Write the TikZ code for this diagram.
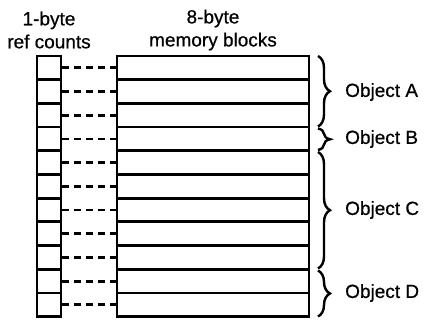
\documentclass[tikz,border=0pt]{standalone}
\usepackage{fontspec}
\setmainfont{Liberation Sans}
\newfontfamily\labfont{Liberation Sans}[FakeBold=0.6]
\usetikzlibrary{decorations.pathreplacing}
\begin{document}
\begin{tikzpicture}[x=1pt,y=-1pt,
  refcell/.style={draw,line width=2.8pt,minimum width=24pt,minimum height=23.7pt,inner sep=0pt,outer sep=0pt},
  memcell/.style={draw,line width=2.8pt,minimum width=192pt,minimum height=23.7pt,inner sep=0pt,outer sep=0pt},
  link/.style={line width=2.8pt,dash pattern=on 7pt off 5pt,dash phase=0pt},
  objbrace/.style={decorate,decoration={brace,amplitude=12pt},line width=2.4pt},
  objlabel/.style={anchor=west,font=\labfont\fontsize{19}{23}\selectfont,inner sep=0pt},
  head/.style={align=center,font=\labfont\fontsize{19}{23}\selectfont,inner sep=0pt}]
\useasboundingbox (0,0) rectangle (424,320);
\node[head] (h1) at (49,30) {1-byte\\ref counts};
\node[head] (h2) at (213,30) {8-byte\\memory blocks};
\foreach \i in {1,...,11}{
  \pgfmathsetmacro{\yy}{56+23.7*(\i-0.5)}
  \node[refcell] (r\i) at (49,\yy) {};
  \node[memcell] (m\i) at (213,\yy) {};
  \draw[link] (m\i.west) -- (r\i.east);
}
\coordinate (a1) at (318,56);   \coordinate (a2) at (318,126.5);
\coordinate (b1) at (318,128.5); \coordinate (b2) at (318,150);
\coordinate (c1) at (318,152);  \coordinate (c2) at (318,268.5);
\coordinate (d1) at (318,270.5); \coordinate (d2) at (318,316.5);
\draw[objbrace] (a1) -- (a2);
\draw[objbrace] (b1) -- (b2);
\draw[objbrace] (c1) -- (c2);
\draw[objbrace] (d1) -- (d2);
\node[objlabel] (la) at (345,92) {Object A};
\node[objlabel] (lb) at (345,139) {Object B};
\node[objlabel] (lc) at (345,210) {Object C};
\node[objlabel] (ld) at (345,293) {Object D};
\end{tikzpicture}
\end{document}
